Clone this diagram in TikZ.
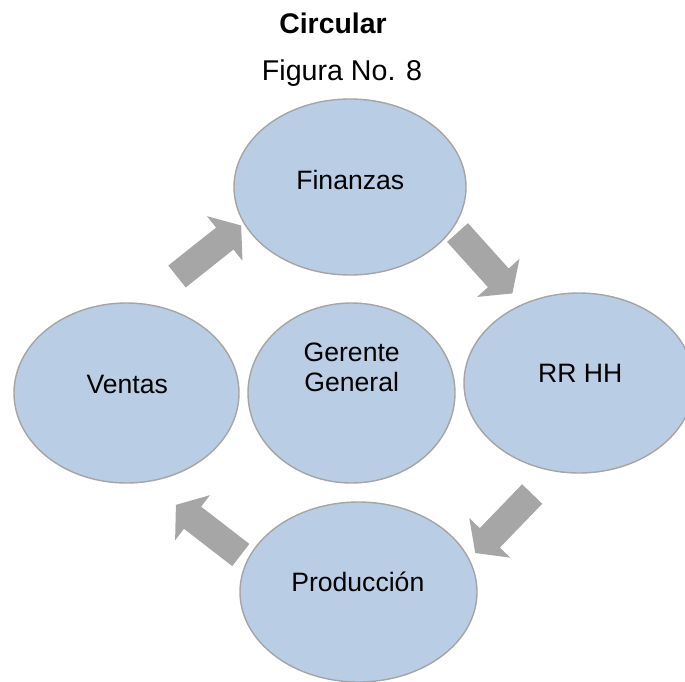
\documentclass[tikz,border=0pt]{standalone}
\usepackage{fontspec}
\setmainfont{Liberation Sans}
\usetikzlibrary{shapes.geometric}
\definecolor{ellfill}{HTML}{B9CDE5}
\definecolor{elldraw}{HTML}{A5A5A5}
\definecolor{arrowgray}{HTML}{A6A6A6}
\tikzset{
  bubble/.style={ellipse, fill=ellfill, draw=elldraw, line width=1.4pt, inner sep=0pt},
  label26/.style={anchor=base, inner sep=0pt, font=\fontsize{26.6}{30}\selectfont},
  blockarrow/.pic={\fill[arrowgray] (0,-14) -- (61,-14) -- (61,-28.5) -- (82,0) -- (61,28.5) -- (61,14) -- (0,14) -- cycle;}
}
\begin{document}
\begin{tikzpicture}[x=1pt,y=1pt]
\useasboundingbox (0,0) rectangle (685,-681);
\clip (0,0) rectangle (685,-681);
% titles
\node[anchor=base, inner sep=0pt, font=\fontsize{28.4}{32}\selectfont\bfseries] (title) at (333,-33.3) {Circular};
\node[anchor=base, inner sep=0pt, font=\fontsize{28.6}{32}\selectfont] (fig) at (342,-80) {Figura No. 8};
% ellipses
\node[bubble, minimum width=232pt, minimum height=176pt] (fin) at (350,-187) {};
\node[bubble, minimum width=225pt, minimum height=180pt] (ven) at (126.5,-393) {};
\node[bubble, minimum width=207pt, minimum height=180pt] (ger) at (351.5,-393) {};
\node[bubble, minimum width=230pt, minimum height=180pt] (rrhh) at (579,-383) {};
\node[bubble, minimum width=237pt, minimum height=180pt] (prod) at (358.5,-592) {};
% texts
\node[label26] (tfin) at (350.3,-189) {Finanzas};
\node[label26] (tven) at (127.2,-393.3) {Ventas};
\node[label26] (tger1) at (351.7,-361.7) {Gerente};
\node[label26] (tger2) at (351.7,-391.7) {General};
\node[label26] (trr) at (580.3,-382.3) {RR HH};
\node[label26] (tprod) at (357.8,-591.7) {Producción};
% block arrows
\pic[rotate=38.5] at (177,-276.5) {blockarrow};
\pic[rotate=-48] at (457.5,-232.5) {blockarrow};
\pic[rotate=-134] at (532.2,-494) {blockarrow};
\pic[rotate=142.3] at (240.8,-555) {blockarrow};
\end{tikzpicture}
\end{document}
